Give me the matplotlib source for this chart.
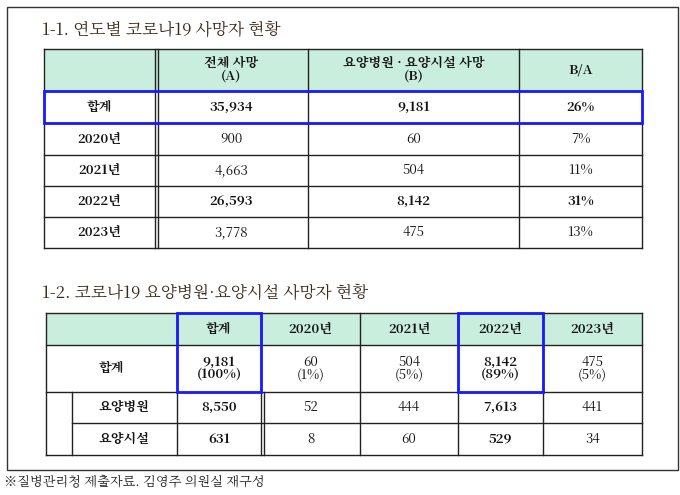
import matplotlib
matplotlib.use('Agg')
import matplotlib.pyplot as plt
from matplotlib import font_manager
from matplotlib.patches import Rectangle

# 한글 폰트 찾기
cjk = [f.name for f in font_manager.fontManager.ttflist if 'CJK' in f.name]
kr = [n for n in cjk if 'KR' in n] + cjk
plt.rcParams['font.family'] = 'sans-serif'
plt.rcParams['font.sans-serif'] = kr + ['Noto Sans CJK KR', 'Noto Sans CJK JP', 'DejaVu Sans']

# 데이터
title1 = "1-1. 연도별 코로나19 사망자 현황"
title2 = "1-2. 코로나19 요양병원·요양시설 사망자 현황"
footer = "※질병관리청 제출자료. 김영주 의원실 재구성"

t1_header = ["", "전체 사망\n(A)", "요양병원 · 요양시설 사망\n(B)", "B/A"]
t1_rows = ["합계", "2020년", "2021년", "2022년", "2023년"]
t1_total = ["35,934", "900", "4,663", "26,593", "3,778"]
t1_care = ["9,181", "60", "504", "8,142", "475"]
t1_ratio = ["26%", "7%", "11%", "31%", "13%"]
t1_bold = [True, False, False, True, False]

t2_cols = ["합계", "2020년", "2021년", "2022년", "2023년"]
t2_sum = ["9,181\n(100%)", "60\n(1%)", "504\n(5%)", "8,142\n(89%)", "475\n(5%)"]
t2_hosp = ["8,550", "52", "444", "7,613", "441"]
t2_fac = ["631", "8", "60", "529", "34"]
t2_bold_cols = [True, False, False, True, False]

HEAD = '#c9eedd'
BLUE = '#1a1aff'
FS = 9.5

fig = plt.figure(figsize=(6.8, 4.95), dpi=100)
ax = fig.add_axes([0, 0, 1, 1])
ax.set_xlim(0, 680)
ax.set_ylim(495, 0)
ax.axis('off')


def cell(x0, x1, y0, y1, text, bold=False, fill=None):
    if fill:
        ax.add_patch(Rectangle((x0, y0), x1 - x0, y1 - y0, facecolor=fill, edgecolor='none'))
    ax.text((x0 + x1) / 2, (y0 + y1) / 2, text, ha='center', va='center',
            fontsize=FS, fontweight='bold' if bold else 'normal',
            linespacing=1.0, color='#111111')


def hline(y, x0, x1, lw=1):
    ax.plot([x0, x1], [y, y], color='#222222', lw=lw)


def vline(x, y0, y1, lw=1):
    ax.plot([x, x], [y0, y1], color='#222222', lw=lw)


# 바깥 테두리
ax.add_patch(Rectangle((7, 7), 671, 463, fill=False, edgecolor='#333333', lw=1))

ax.text(42, 30, title1, fontsize=12, va='center', color='#3a2a1a')
ax.text(42, 293, title2, fontsize=12, va='center', color='#3a2a1a')
ax.text(4, 482, footer, fontsize=9.5, va='center', color='#222222')

# 표 1
xs1 = [44, 155, 308, 519, 642]
ys1 = [49, 91, 123, 155, 186, 217, 248]
ax.add_patch(Rectangle((xs1[0], ys1[0]), xs1[-1] - xs1[0], ys1[1] - ys1[0], facecolor=HEAD, edgecolor='none'))
for j, h in enumerate(t1_header):
    cell(xs1[j], xs1[j + 1], ys1[0], ys1[1], h, bold=(j > 0))
for i, name in enumerate(t1_rows):
    y0, y1 = ys1[i + 1], ys1[i + 2]
    vals = [name, t1_total[i], t1_care[i], t1_ratio[i]]
    for j, v in enumerate(vals):
        cell(xs1[j], xs1[j + 1], y0, y1, v, bold=(t1_bold[i] or j == 0))
for y in ys1:
    hline(y, xs1[0], xs1[-1])
for x in xs1:
    vline(x, ys1[0], ys1[-1])
vline(xs1[1] + 2.5, ys1[0], ys1[-1])
ax.add_patch(Rectangle((xs1[0], ys1[1]), xs1[-1] - xs1[0], ys1[2] - ys1[1],
                       fill=False, edgecolor=BLUE, lw=2, zorder=5))

# 표 2
xs2 = [46, 72, 177, 261, 360, 458, 543, 642]
ys2 = [313, 345, 392, 423, 455]
ax.add_patch(Rectangle((xs2[0], ys2[0]), xs2[-1] - xs2[0], ys2[1] - ys2[0], facecolor=HEAD, edgecolor='none'))
for j, c in enumerate(t2_cols):
    cell(xs2[j + 2], xs2[j + 3], ys2[0], ys2[1], c, bold=True)
cell(xs2[0], xs2[2], ys2[1], ys2[2], "합계", bold=True)
cell(xs2[1], xs2[2], ys2[2], ys2[3], "요양병원", bold=True)
cell(xs2[1], xs2[2], ys2[3], ys2[4], "요양시설", bold=True)
for j in range(5):
    b = t2_bold_cols[j]
    cell(xs2[j + 2], xs2[j + 3], ys2[1], ys2[2], t2_sum[j], bold=b)
    cell(xs2[j + 2], xs2[j + 3], ys2[2], ys2[3], t2_hosp[j], bold=b)
    cell(xs2[j + 2], xs2[j + 3], ys2[3], ys2[4], t2_fac[j], bold=b)
hline(ys2[0], xs2[0], xs2[-1])
hline(ys2[1], xs2[0], xs2[-1])
hline(ys2[2], xs2[0], xs2[-1])
hline(ys2[3], xs2[1], xs2[-1])
hline(ys2[4], xs2[0], xs2[-1])
vline(xs2[0], ys2[0], ys2[-1])
vline(xs2[1], ys2[2], ys2[-1])
vline(xs2[-1], ys2[0], ys2[-1])
for x in xs2[2:-1]:
    vline(x, ys2[0], ys2[-1])
vline(xs2[3] + 2.5, ys2[2], ys2[-1])
for j in (0, 3):
    ax.add_patch(Rectangle((xs2[j + 2], ys2[0]), xs2[j + 3] - xs2[j + 2], ys2[2] - ys2[0],
                           fill=False, edgecolor=BLUE, lw=2, zorder=5))

fig.savefig('out.png', dpi=100)
